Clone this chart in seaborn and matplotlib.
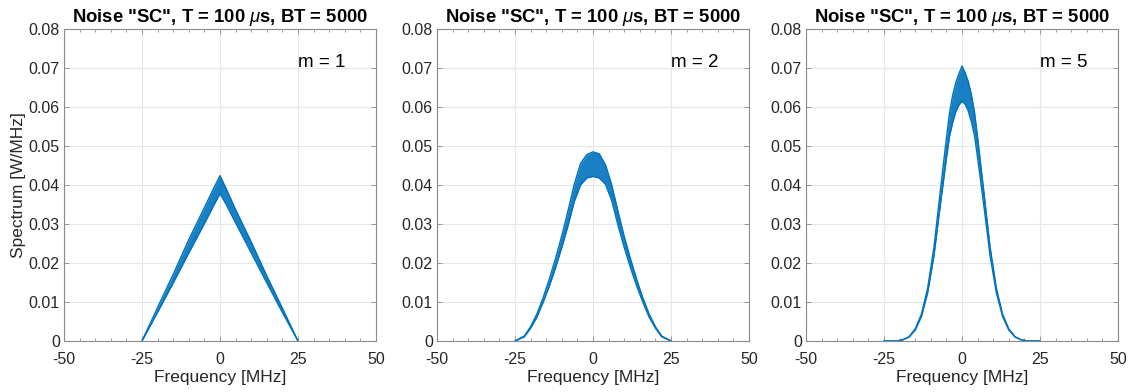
import matplotlib
matplotlib.use("Agg")
import matplotlib.pyplot as plt
import seaborn as sns
import pandas as pd
from matplotlib.ticker import MultipleLocator

# ---------------- data ----------------
title_text = r'Noise "SC", T = 100 $\mu$s, BT = 5000'
m_labels = ["m = 1", "m = 2", "m = 5"]

# m = 1 : triangular spectrum (noise band lower/upper envelope, W/MHz)
freq1 = [-25, -20, -15, -10, -5, -2, 0, 2, 5, 10, 15, 20, 25]
lower1 = [0.0, 0.0074, 0.0149, 0.0226, 0.0301, 0.0348, 0.0378, 0.0350, 0.0303, 0.0226, 0.0149, 0.0073, 0.0]
upper1 = [0.0, 0.0086, 0.0171, 0.0260, 0.0342, 0.0392, 0.0424, 0.0390, 0.0337, 0.0254, 0.0167, 0.0084, 0.0]

# m = 2
freq2 = [-25, -22, -20, -18, -16, -14, -12, -10, -8, -6, -4, -2, 0,
         2, 4, 6, 8, 10, 12, 14, 16, 18, 20, 22, 25]
lower2 = [0.0, 0.0011, 0.0033, 0.0061, 0.0099, 0.0141, 0.0188, 0.0240, 0.0296, 0.0358, 0.0400, 0.0418, 0.0422,
          0.0418, 0.0402, 0.0360, 0.0297, 0.0240, 0.0188, 0.0141, 0.0099, 0.0061, 0.0033, 0.0011, 0.0]
upper2 = [0.0, 0.0013, 0.0037, 0.0069, 0.0111, 0.0159, 0.0212, 0.0270, 0.0334, 0.0402, 0.0455, 0.0478, 0.0485,
          0.0480, 0.0452, 0.0400, 0.0333, 0.0268, 0.0211, 0.0158, 0.0110, 0.0069, 0.0037, 0.0013, 0.0]

# m = 5
freq5 = [-25, -21, -19, -17, -15, -13, -11, -9, -7, -5, -4, -3, -2, -1, 0,
         1, 2, 3, 4, 5, 7, 9, 11, 13, 15, 17, 19, 21, 25]
lower5 = [0.0, 0.0000, 0.0003, 0.0010, 0.0028, 0.0063, 0.0124, 0.0218, 0.0345, 0.0468, 0.0525, 0.0560, 0.0588, 0.0605, 0.0615,
          0.0607, 0.0590, 0.0562, 0.0527, 0.0470, 0.0347, 0.0219, 0.0124, 0.0063, 0.0028, 0.0010, 0.0003, 0.0000, 0.0]
upper5 = [0.0, 0.0000, 0.0003, 0.0011, 0.0031, 0.0069, 0.0136, 0.0240, 0.0381, 0.0520, 0.0585, 0.0630, 0.0662, 0.0685, 0.0705,
          0.0688, 0.0665, 0.0632, 0.0587, 0.0522, 0.0383, 0.0241, 0.0136, 0.0069, 0.0031, 0.0011, 0.0003, 0.0000, 0.0]

x_ticks = [-50, -25, 0, 25, 50]
y_ticks = [0, 0.01, 0.02, 0.03, 0.04, 0.05, 0.06, 0.07, 0.08]
y_ticklabels = ["0", "0.01", "0.02", "0.03", "0.04", "0.05", "0.06", "0.07", "0.08"]

panels = [
    pd.DataFrame({"freq": freq1, "lower": lower1, "upper": upper1}),
    pd.DataFrame({"freq": freq2, "lower": lower2, "upper": upper2}),
    pd.DataFrame({"freq": freq5, "lower": lower5, "upper": upper5}),
]

# ---------------- style ----------------
sns.set_theme(style="ticks")
plt.rcParams["font.family"] = ["Liberation Sans", "DejaVu Sans"]
plt.rcParams["mathtext.fontset"] = "custom"
plt.rcParams["mathtext.rm"] = "Liberation Sans"
plt.rcParams["mathtext.it"] = "Liberation Sans:italic"
plt.rcParams["mathtext.bf"] = "Liberation Sans:bold"

LINE = "#0072BD"
TXT = "#262626"
FRAME = "#8a8a8a"
GRID = "#e6e6e6"

W, H = 1133, 392
fig = plt.figure(figsize=(W / 100, H / 100), dpi=100)
lefts = [64, 437, 806]
ax_w, ax_top, ax_bot = 312, 29, 341

for i, (df, lab) in enumerate(zip(panels, m_labels)):
    ax = fig.add_axes([lefts[i] / W, (H - ax_bot) / H, ax_w / W, (ax_bot - ax_top) / H])
    ax.fill_between(df["freq"], df["lower"], df["upper"], color=LINE, alpha=0.9, linewidth=0)
    sns.lineplot(data=df, x="freq", y="lower", ax=ax, color=LINE, linewidth=1.0)
    sns.lineplot(data=df, x="freq", y="upper", ax=ax, color=LINE, linewidth=1.0)

    ax.set_xlim(-50, 50)
    ax.set_ylim(0, 0.08)
    ax.set_xticks(x_ticks)
    ax.set_xticklabels([str(t) for t in x_ticks])
    ax.set_yticks(y_ticks)
    ax.set_yticklabels(y_ticklabels)
    ax.xaxis.set_minor_locator(MultipleLocator(5))
    ax.grid(True, which="major", color=GRID, linewidth=0.8)
    ax.set_axisbelow(True)
    ax.tick_params(which="both", direction="in", top=True, right=True,
                   colors=FRAME, labelcolor=TXT, labelsize=11.5, width=0.6)
    ax.tick_params(which="major", length=3.5)
    ax.tick_params(axis="x", which="major", pad=8)
    ax.tick_params(axis="y", which="major", pad=3)
    ax.tick_params(which="minor", length=2)
    for sp in ax.spines.values():
        sp.set_color(FRAME)
        sp.set_linewidth(0.8)

    ax.set_title(title_text, fontsize=13.3, fontweight="bold", color="black", pad=5)
    ax.set_xlabel("Frequency [MHz]", fontsize=12.5, color=TXT, labelpad=2)
    if i == 0:
        ax.set_ylabel("Spectrum [W/MHz]", fontsize=12.5, color=TXT, labelpad=2)
    else:
        ax.set_ylabel("")
    ax.text(25, 0.0715, lab, fontsize=13.5, color="black", ha="left", va="center")

fig.savefig("out.png", dpi=100)
